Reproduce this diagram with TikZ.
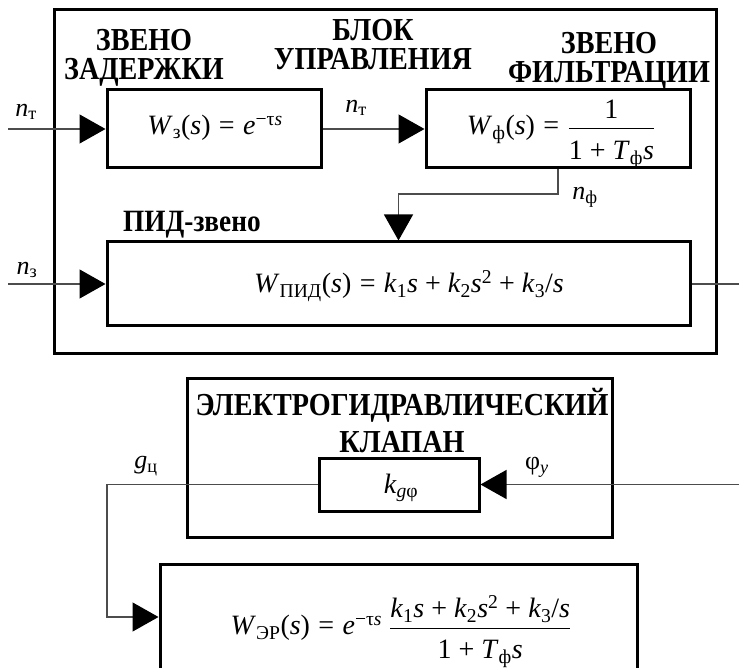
\documentclass[tikz,border=0pt]{standalone}
\usepackage{fontspec}
\usepackage{amsmath}
\setmainfont{Liberation Serif}
\newfontfamily\titlefont[FakeStretch=0.88]{Liberation Serif}
\usetikzlibrary{arrows.meta}
\newcommand{\vi}[1]{\textit{#1}}
\newcommand{\opeq}{\hspace{0.3em}=\hspace{0.3em}}
\newcommand{\oppl}{\hspace{0.25em}+\hspace{0.25em}}
\newcommand{\numstrut}{\rule[-7pt]{0pt}{7pt}}
\newcommand{\denstrut}{\rule{0pt}{27pt}}
\begin{document}
\begin{tikzpicture}[x=1pt,y=-1pt,
  blk/.style={draw, line width=3pt, inner sep=0pt},
  conn/.style={draw=black!70, line width=1.2pt},
  arr/.style={conn, -{Triangle[length=26pt,width=29pt,color=black]}},
  ttl/.style={font=\titlefont\bfseries\fontsize{32}{29}\selectfont, align=center, inner sep=0pt},
  lbl/.style={font=\fontsize{26}{30}\selectfont, inner sep=0pt},
  frm/.style={font=\fontsize{28}{32}\selectfont, inner sep=0pt}]
\useasboundingbox[fill=white] (0,0) rectangle (739,668);
% boxes
\node[blk, minimum width=662pt, minimum height=343pt] (ctrl) at (385,181.5) {};
\node[blk, minimum width=214pt, minimum height=78pt] (delay) at (214,129) {};
\node[blk, minimum width=264pt, minimum height=78pt] (filter) at (558,129) {};
\node[blk, minimum width=583pt, minimum height=84pt] (pid) at (398.5,284) {};
\node[blk, minimum width=425pt, minimum height=159pt] (valve) at (399.5,457.5) {};
\node[blk, minimum width=160pt, minimum height=53pt] (kbox) at (399,484.5) {};
\node[blk, minimum width=477pt, minimum height=106pt] (er) at (398.5,617) {};
% titles
\node[ttl] (tBlock) at (373,45) {БЛОК\\УПРАВЛЕНИЯ};
\node[ttl] (tDelay) at (144,58) {ЗВЕНО\\ЗАДЕРЖКИ};
\node[ttl] (tFilt) at (609,61) {ЗВЕНО\\ФИЛЬТРАЦИИ};
\node[ttl, anchor=west, font=\titlefont\bfseries\fontsize{31}{28}\selectfont] (tPid) at (123,225) {ПИД-звено};
\node[ttl, font=\titlefont\bfseries\fontsize{32}{37}\selectfont] (tValve) at (402,421) {ЭЛЕКТРОГИДРАВЛИЧЕСКИЙ\\КЛАПАН};
% formulas
\node[frm] (fDelay) at (215,128) {\vi{W}\textsubscript{з}(\vi{s})\opeq\vi{e}\textsuperscript{−τ\vi{s}}};
\node[frm] (fFilt) at (561,134) {\vi{W}\textsubscript{ф}(\vi{s})\opeq$\dfrac{\text{\numstrut 1}}{\text{\denstrut 1\oppl\vi{T}\textsubscript{ф}\vi{s}}}$};
\node[frm] (fPid) at (409,286) {\vi{W}\textsubscript{ПИД}(\vi{s})\opeq\vi{k}\textsubscript{1}\vi{s}\oppl\vi{k}\textsubscript{2}\vi{s}\textsuperscript{2}\oppl\vi{k}\textsubscript{3}/\vi{s}};
\node[frm] (fK) at (401,488) {\vi{k}\textsubscript{\vi{g}φ}};
\node[frm] (fEr) at (401,632) {\vi{W}\textsubscript{ЭР}(\vi{s})\opeq\vi{e}\textsuperscript{−τ\vi{s}} $\dfrac{\text{\numstrut\vi{k}\textsubscript{1}\vi{s}\oppl\vi{k}\textsubscript{2}\vi{s}\textsuperscript{2}\oppl\vi{k}\textsubscript{3}/\vi{s}}}{\text{\denstrut 1\oppl\vi{T}\textsubscript{ф}\vi{s}}}$};
% signal labels
\node[lbl] (lnT1) at (26,112) {\vi{n}\textsubscript{т}};
\node[lbl] (lnT2) at (356,108) {\vi{n}\textsubscript{т}};
\node[lbl] (lnF) at (585,197) {\vi{n}\textsubscript{ф}};
\node[lbl] (lnZ) at (27,270) {\vi{n}\textsubscript{з}};
\node[lbl] (lG) at (146,466) {\vi{g}\textsubscript{ц}};
\node[lbl] (lPhi) at (537,467) {φ\textsubscript{\vi{y}}};
% connectors
\coordinate (inT) at (8,129);
\coordinate (inZ) at (8,284);
\coordinate (outR) at (739,284);
\coordinate (inPhi) at (739,484.5);
\coordinate (bendF) at (398.5,194);
\coordinate (gL) at (107,484.5);
\draw[arr] (inT) -- (delay.west);
\draw[arr] (delay.east) -- (filter.west);
\draw[arr] (filter.south) |- (bendF) -- (pid.north);
\draw[arr] (inZ) -- (pid.west);
\draw[conn] (pid.east) -- (outR);
\draw[arr] (inPhi) -- (kbox.east);
\draw[arr] (kbox.west) -- (gL) |- (er.west);
\end{tikzpicture}
\end{document}
